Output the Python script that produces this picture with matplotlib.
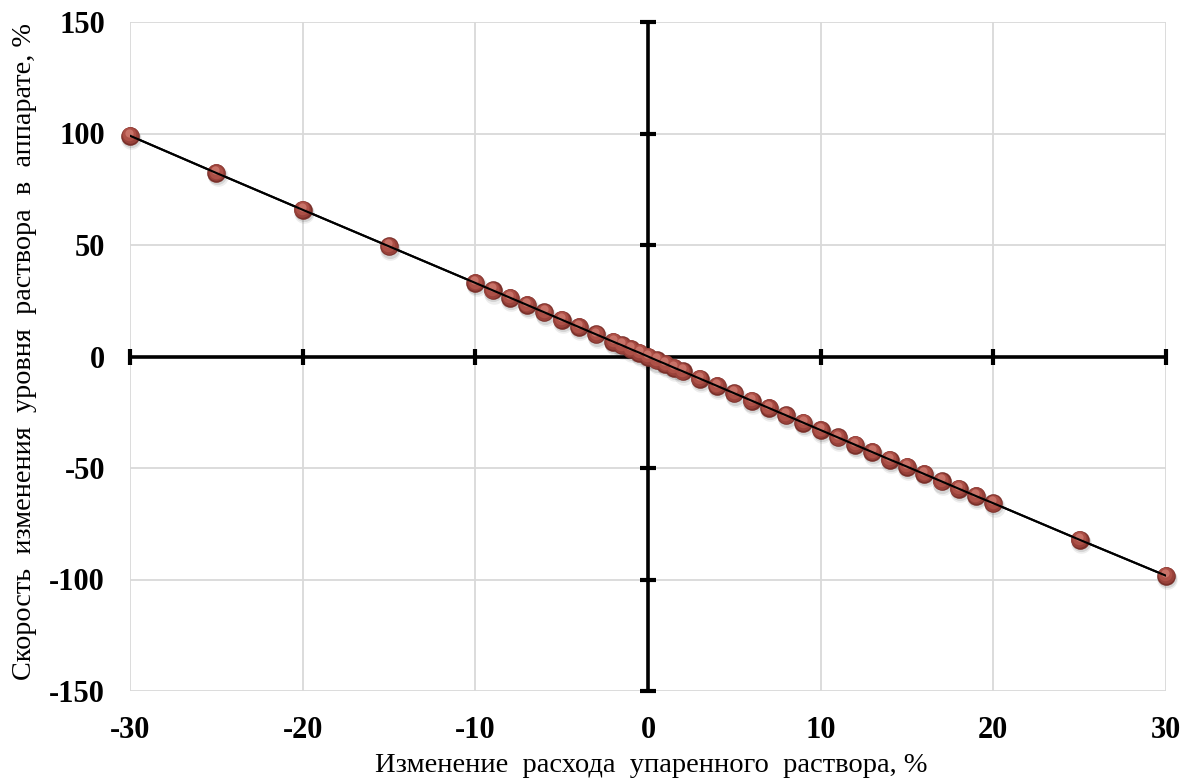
import matplotlib
matplotlib.use("Agg")
import matplotlib.pyplot as plt
import numpy as np

# Data
x_vals = [-30, -25, -20, -15, -10, -9, -8, -7, -6, -5, -4, -3, -2, -1.5, -1, -0.5,
          0, 0.5, 1, 1.5, 2, 3, 4, 5, 6, 7, 8, 9, 10, 11, 12, 13, 14, 15, 16, 17,
          18, 19, 20, 25, 30]
y_vals = [99, 82.3, 65.8, 49.4, 33, 29.7, 26.4, 23.1, 19.8, 16.5, 13.2, 9.9, 6.6, 5.0, 3.3, 1.7,
          0, -1.7, -3.3, -5.0, -6.6, -9.9, -13.2, -16.5, -19.8, -23.1, -26.4, -29.7, -33.0, -36.3,
          -39.6, -42.9, -46.2, -49.4, -52.7, -56.0, -59.3, -62.6, -65.8, -82.2, -98.3]
x_ticks = [-30, -20, -10, 0, 10, 20, 30]
y_ticks = [-150, -100, -50, 0, 50, 100, 150]
x_label = "Изменение  расхода  упаренного  раствора, %"
y_label = "Скорость  изменения  уровня  раствора  в  аппарате, %"

plt.rcParams['font.family'] = ['Liberation Serif', 'DejaVu Serif']
plt.rcParams['axes.unicode_minus'] = False

fig = plt.figure(figsize=(11.97, 7.82), dpi=100)
ax = fig.add_axes([130/1197, 1-691/782, (1166-130)/1197, (691-22)/782])
ax.set_xlim(-30, 30)
ax.set_ylim(-150, 150)
for s in ax.spines.values():
    s.set_visible(False)
ax.set_xticks(x_ticks)
ax.set_yticks(y_ticks)
ax.tick_params(length=0, labelsize=22)
for lab in ax.get_xticklabels() + ax.get_yticklabels():
    lab.set_fontweight('bold')
ax.tick_params(axis='y', pad=18)
ax.tick_params(axis='x', pad=18)
ax.grid(True, color='#d9d9d9', linewidth=1.3, zorder=0)

# zero axes
ax.axhline(0, color='black', linewidth=2.6, zorder=2)
ax.axvline(0, color='black', linewidth=2.6, zorder=2)
ax.plot(x_ticks, [0]*len(x_ticks), linestyle='none', marker='|', markersize=12,
        markeredgewidth=3, color='black', zorder=2, clip_on=False)
ax.plot([0]*len(y_ticks), y_ticks, linestyle='none', marker='_', markersize=12,
        markeredgewidth=3, color='black', zorder=2, clip_on=False)

# line
ax.plot(x_vals, y_vals, color='black', linewidth=1.5, zorder=3)

# sphere-like markers
xs = np.array(x_vals); ys = np.array(y_vals)
ax.scatter(xs + 0.08, ys - 1.5, s=220, color='#000000', alpha=0.07, linewidths=0, zorder=3.4, clip_on=False)
ax.scatter(xs + 0.05, ys - 1.0, s=190, color='#000000', alpha=0.10, linewidths=0, zorder=3.5, clip_on=False)
ax.scatter(xs, ys, s=180, color='#7a302a', linewidths=0, zorder=4, clip_on=False)
ax.scatter(xs - 0.02, ys + 0.3, s=145, color='#98413a', linewidths=0, zorder=4.1, clip_on=False)
ax.scatter(xs - 0.04, ys + 0.6, s=95, color='#ad5047', linewidths=0, zorder=4.2, clip_on=False)
ax.scatter(xs - 0.05, ys + 1.3, s=35, color='#c87268', linewidths=0, zorder=4.3, clip_on=False)
ax.plot(x_vals, y_vals, color='black', linewidth=1.5, zorder=4.5)

fig.text(651/1197, 1-765/782, x_label, ha='center', va='center', fontsize=20.5)
fig.text(25/1197, 1-352/782, y_label, ha='center', va='center', fontsize=20.3, rotation=90)

fig.savefig('out.png', dpi=100)
